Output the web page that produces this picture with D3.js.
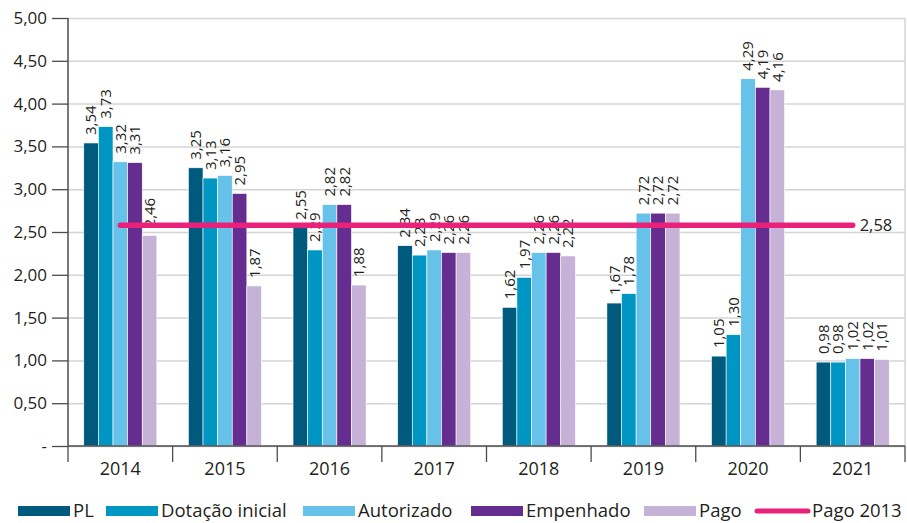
<!DOCTYPE html>
<head>
    <meta charset="utf-8">
    <script src="https://d3js.org/d3.v7.min.js"></script>
    <style>
      body { margin: 0; background: #fff; }
      text {
        font-family: "Open Sans", sans-serif;
        fill: #231f20;
      }
      .ytick { font-size: 17px; }
      .xtick { font-size: 18px; }
      .vallabel { font-size: 15px; }
      .legendtext { font-size: 18.5px; }
    </style>
<body>
    <script>
        var years = ["2014","2015","2016","2017","2018","2019","2020","2021"]
        var seriesNames = ["PL","Dotação inicial","Autorizado","Empenhado","Pago"]
        var seriesColors = ["#005a7d","#0096c4","#66c2e8","#652d8f","#c6b2d7"]
        var plValues = [3.54,3.25,2.55,2.34,1.62,1.67,1.05,0.98]
        var dotacaoValues = [3.73,3.13,2.29,2.23,1.97,1.78,1.30,0.98]
        var autorizadoValues = [3.32,3.16,2.82,2.29,2.26,2.72,4.29,1.02]
        var empenhadoValues = [3.31,2.95,2.82,2.26,2.26,2.72,4.19,1.02]
        var pagoValues = [2.46,1.87,1.88,2.26,2.22,2.72,4.16,1.01]
        var pago2013 = 2.58
        var pago2013Name = "Pago 2013"
        var lineColor = "#e9217a"
        var yTicks = [0,0.5,1,1.5,2,2.5,3,3.5,4,4.5,5]

        var allSeries = [plValues, dotacaoValues, autorizadoValues, empenhadoValues, pagoValues]

        var svg_w = 907
        var svg_h = 523
        var pLeft = 68, pRight = 905, pTop = 18, pBottom = 446

        var svg = d3.select("body").append("svg")
          .attr("width", svg_w)
          .attr("height", svg_h)

        var fmt = function(v){ return d3.format(".2f")(v).replace(".", ",") }

        var x = d3.scaleBand().domain(years).range([pLeft, pRight]).padding(0)
        var x1 = d3.scaleBand().domain(seriesNames).range([0, x.bandwidth()])
          .paddingInner(0).paddingOuter(1.08)
        var y = d3.scaleLinear().domain([0, 5]).range([pBottom, pTop])

        // gridlines
        svg.append("g")
          .attr("transform", "translate("+pLeft+",0)")
          .call(d3.axisRight(y).tickValues(yTicks).tickFormat("").tickSize(pRight-pLeft))
          .call(function(g){ g.select(".domain").remove() })
          .selectAll("line")
          .attr("stroke", "#d4d4d4")
          .attr("stroke-width", 1.5)

        // right border
        svg.append("line")
          .attr("x1", pRight).attr("x2", pRight)
          .attr("y1", pTop).attr("y2", pBottom)
          .attr("stroke", "#d4d4d4")
          .attr("stroke-width", 1.5)

        // bars
        var rows = []
        years.forEach(function(yr, i){
          seriesNames.forEach(function(s, j){
            rows.push({year: yr, series: s, value: allSeries[j][i], color: seriesColors[j]})
          })
        })

        var bars = svg.append("g").selectAll("rect")
          .data(rows).enter().append("rect")
          .attr("x", function(d){ return x(d.year) + x1(d.series) })
          .attr("y", function(d){ return y(d.value) })
          .attr("width", x1.bandwidth())
          .attr("height", function(d){ return pBottom - y(d.value) })
          .attr("fill", function(d){ return d.color })
          .attr("stroke", "#fff")
          .attr("stroke-width", 0.6)

        // value labels
        svg.append("g").selectAll("text")
          .data(rows).enter().append("text")
          .classed("vallabel", true)
          .attr("transform", function(d){
            var cx = x(d.year) + x1(d.series) + x1.bandwidth()/2
            return "translate("+cx+","+(y(d.value)-8)+") rotate(-90)"
          })
          .attr("dy", "0.36em")
          .attr("text-anchor", "start")
          .text(function(d){ return fmt(d.value) })

        // Pago 2013 line
        var lineData = [years[0], years[years.length-1]]
        svg.append("path")
          .datum(lineData)
          .attr("d", d3.line()
            .x(function(d){ return x(d) + x.bandwidth()/2 })
            .y(function(){ return y(pago2013) }))
          .attr("stroke", lineColor)
          .attr("stroke-width", 5.5)
          .attr("stroke-linecap", "round")
          .attr("fill", "none")
        svg.append("text")
          .attr("x", x(years[years.length-1]) + x.bandwidth()/2 + 7)
          .attr("y", y(pago2013))
          .attr("dy", "0.35em")
          .attr("font-size", "16.5px")
          .text(fmt(pago2013))

        // y axis
        var yAxis = svg.append("g")
          .attr("transform", "translate("+pLeft+",0)")
          .call(d3.axisLeft(y).tickValues(yTicks).tickSize(16).tickPadding(5)
            .tickFormat(function(d){ return d === 0 ? "-" : fmt(d) }))
        yAxis.selectAll("text").classed("ytick", true).attr("font-family", null).attr("font-size", null).attr("fill", null)
        yAxis.attr("font-family", null).attr("font-size", null)
        yAxis.selectAll("line").attr("stroke", "#4d4d4d").attr("stroke-width", 1.3)
        yAxis.select(".domain").attr("stroke", "#4d4d4d").attr("stroke-width", 1.5)
          .attr("d", "M0,"+pTop+"V"+pBottom)

        // x axis
        var xg = svg.append("g").attr("transform", "translate(0,"+pBottom+")")
        xg.append("line")
          .attr("x1", pLeft).attr("x2", pRight)
          .attr("stroke", "#4d4d4d").attr("stroke-width", 1.5)
        xg.selectAll(".xt").data(years.concat(["end"])).enter().append("line")
          .attr("x1", function(d){ return d === "end" ? pRight : x(d) })
          .attr("x2", function(d){ return d === "end" ? pRight : x(d) })
          .attr("y1", 0).attr("y2", 16)
          .attr("stroke", "#4d4d4d").attr("stroke-width", 1.3)
        xg.selectAll(".xtick").data(years).enter().append("text")
          .classed("xtick", true)
          .attr("x", function(d){ return x(d) + x.bandwidth()/2 })
          .attr("y", 29)
          .attr("text-anchor", "middle")
          .text(function(d){ return d })

        // legend
        var legendX = [18, 106, 303, 471, 644, 755]
        var legendItems = seriesNames.concat([pago2013Name])
        var legend = svg.append("g").attr("transform", "translate(0,511)")
        legendItems.forEach(function(name, i){
          var g = legend.append("g").attr("transform", "translate("+legendX[i]+",0)")
          if (i < seriesNames.length) {
            g.append("rect").attr("x", 0).attr("y", -5).attr("width", 52).attr("height", 10)
              .attr("fill", seriesColors[i])
          } else {
            g.append("line").attr("x1", 2).attr("x2", 53).attr("y1", 0).attr("y2", 0)
              .attr("stroke", lineColor).attr("stroke-width", 5).attr("stroke-linecap", "round")
          }
          g.append("text").classed("legendtext", true)
            .attr("x", i < seriesNames.length ? 55 : 57)
            .attr("y", 0)
            .attr("dy", "0.35em")
            .text(name)
        })
    </script>
</body>
